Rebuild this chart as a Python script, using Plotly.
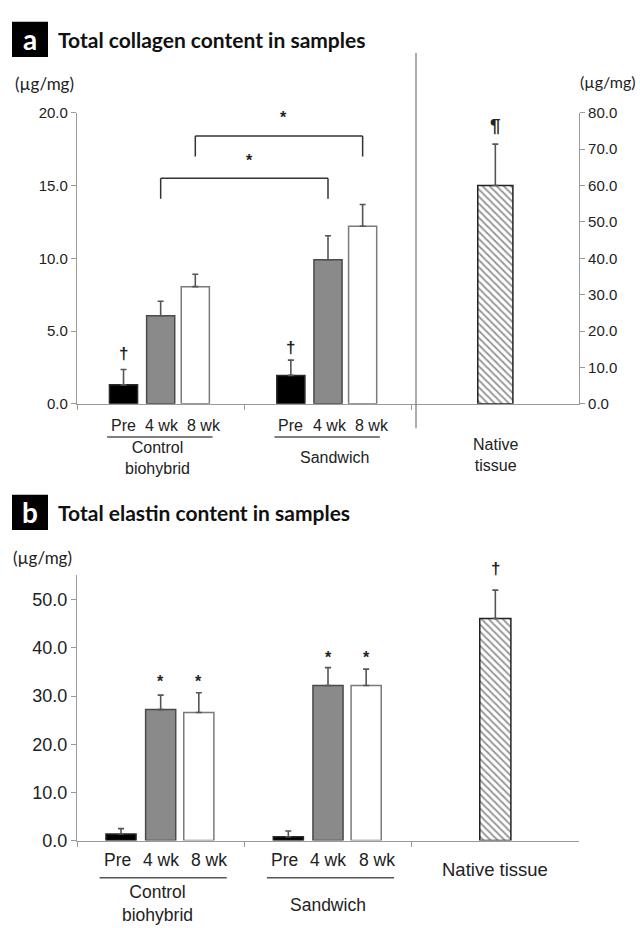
import plotly.graph_objects as go

# ---------------- data ----------------
categories = ["Control biohybrid", "Sandwich"]
native_category = ["Native tissue"]
all_categories = categories + native_category
timepoints = ["Pre", "4 wk", "8 wk"]

# Panel a: total collagen (µg/mg), upper error bars only
collagen_pre = [1.3, 1.95]
collagen_pre_err = [1.05, 1.05]
collagen_4wk = [6.05, 9.9]
collagen_4wk_err = [1.0, 1.65]
collagen_8wk = [8.05, 12.2]
collagen_8wk_err = [0.85, 1.5]
collagen_native = [60.0]
collagen_native_err = [11.4]

# Panel b: total elastin (µg/mg)
elastin_pre = [1.4, 0.8]
elastin_pre_err = [1.1, 1.2]
elastin_4wk = [27.2, 32.2]
elastin_4wk_err = [3.0, 3.7]
elastin_8wk = [26.6, 32.2]
elastin_8wk_err = [4.1, 3.4]
elastin_native = [46.1]
elastin_native_err = [5.9]

collagen_left_ticks = [0, 5, 10, 15, 20]
collagen_right_ticks = [0, 10, 20, 30, 40, 50, 60, 70, 80]
elastin_ticks = [0, 10, 20, 30, 40, 50]

# ---------------- helpers ----------------
W, H = 640, 928
def px(x):
    return x / W
def py(y):
    return 1 - y / H

LABEL_FONT = "Liberation Sans, Arial, sans-serif"
TITLE_FONT = "Lato, Open Sans, sans-serif"

fig = go.Figure()

fill_colors = ["#000000", "#8a8a8a", "#ffffff"]
line_colors = ["#2a2a2a", "#4a4a4a", "#7a7a7a"]


def add_panel(xa, ya, vals, errs, offsets, width):
    for i, (v, e) in enumerate(zip(vals, errs)):
        fig.add_trace(go.Bar(
            x=categories, y=v, name=timepoints[i],
            xaxis=xa, yaxis=ya,
            offset=offsets[i] - width / 2, width=width,
            marker=dict(color=fill_colors[i], line=dict(color=line_colors[i], width=1.5)),
            error_y=dict(type="data", array=e, arrayminus=[0] * len(e), symmetric=False,
                         color="#555555", thickness=1.6, width=3),
            showlegend=False, hoverinfo="x+y",
        ))

# Panel a bars
add_panel("x", "y", [collagen_pre, collagen_4wk, collagen_8wk],
          [collagen_pre_err, collagen_4wk_err, collagen_8wk_err],
          [-0.222, 0.0, 0.207], 0.168)
fig.add_trace(go.Bar(
    x=native_category, y=collagen_native, xaxis="x", yaxis="y2",
    offset=-0.105, width=0.21,
    marker=dict(color="#ffffff", line=dict(color="#222222", width=1.5),
                pattern=dict(shape="\\", fgcolor="#333333", bgcolor="#ffffff", size=5, solidity=0.4)),
    error_y=dict(type="data", array=collagen_native_err, arrayminus=[0], symmetric=False,
                 color="#555555", thickness=1.6, width=3),
    showlegend=False,
))

# Panel b bars
add_panel("x2", "y3", [elastin_pre, elastin_4wk, elastin_8wk],
          [elastin_pre_err, elastin_4wk_err, elastin_8wk_err],
          [-0.237, 0.0, 0.228], 0.18)
fig.add_trace(go.Bar(
    x=native_category, y=elastin_native, xaxis="x2", yaxis="y3",
    offset=-0.093, width=0.186,
    marker=dict(color="#ffffff", line=dict(color="#222222", width=1.5),
                pattern=dict(shape="\\", fgcolor="#333333", bgcolor="#ffffff", size=5, solidity=0.4)),
    error_y=dict(type="data", array=elastin_native_err, arrayminus=[0], symmetric=False,
                 color="#555555", thickness=1.6, width=3),
    showlegend=False,
))

xdom = [px(77), px(579)]
axis_line = "#9a9a9a"
common_x = dict(type="category", categoryorder="array", categoryarray=all_categories,
                range=[-0.5, 2.5], showticklabels=False, ticks="outside", tickson="boundaries",
                ticklen=5, tickcolor=axis_line, showline=True, linecolor=axis_line, linewidth=1.2,
                showgrid=False, zeroline=False, domain=xdom, fixedrange=True)

fig.update_layout(
    width=W, height=H, margin=dict(l=0, r=0, t=0, b=0),
    paper_bgcolor="white", plot_bgcolor="white", barmode="overlay",
    xaxis=dict(**common_x, anchor="y"),
    yaxis=dict(domain=[py(403), py(106)], range=[0, 20], tickvals=collagen_left_ticks,
               tickformat=".1f", ticks="outside", ticklen=5, tickcolor=axis_line,
               showline=True, linecolor=axis_line, linewidth=1.2, showgrid=False, zeroline=False,
               tickfont=dict(family=LABEL_FONT, size=15, color="#222222"), anchor="x"),
    yaxis2=dict(overlaying="y", side="right", anchor="x", range=[0, 80], tickvals=collagen_right_ticks,
                tickformat=".1f", ticks="outside", ticklen=5, tickcolor=axis_line,
                showline=True, linecolor=axis_line, linewidth=1.2, showgrid=False, zeroline=False,
                tickfont=dict(family=LABEL_FONT, size=15, color="#222222")),
    xaxis2=dict(**common_x, anchor="y3"),
    yaxis3=dict(domain=[py(849), py(578)], range=[0, 55.1], tickvals=elastin_ticks,
                tickformat=".1f", ticks="outside", ticklen=5, tickcolor=axis_line,
                showline=True, linecolor=axis_line, linewidth=1.2, showgrid=False, zeroline=False,
                tickfont=dict(family=LABEL_FONT, size=18, color="#222222"), anchor="x2"),
)

ann = []
shapes = []

# Titles
for letter, title, y0, y1 in [("a", "Total collagen content in samples", 13, 49),
                              ("b", "Total elastin content in samples", 496, 532)]:
    shapes.append(dict(type="rect", xref="paper", yref="paper", x0=px(12), x1=px(48),
                       y0=py(y1), y1=py(y0), fillcolor="black", line=dict(width=0)))
    ann.append(dict(xref="paper", yref="paper", x=px(30), y=py((y0 + y1) / 2), text="<b>%s</b>" % letter,
                    showarrow=False, xanchor="center", yanchor="middle",
                    font=dict(family=TITLE_FONT, size=28, color="white")))
    ann.append(dict(xref="paper", yref="paper", x=px(56), y=py((y0 + y1) / 2), text="<b>%s</b>" % title,
                    showarrow=False, xanchor="left", yanchor="middle",
                    font=dict(family=TITLE_FONT, size=21, color="#111111")))

# Units
for x, y, anchor, size in [(13, 76, "left", 17), (578, 74, "left", 16), (11, 560, "left", 17)]:
    ann.append(dict(xref="paper", yref="paper", x=px(x), y=py(y), text="(µg/mg)", showarrow=False,
                    xanchor=anchor, yanchor="middle", font=dict(family=TITLE_FONT, size=size, color="#222222")))

# Separator in panel a
shapes.append(dict(type="line", xref="paper", yref="paper", x0=px(416), x1=px(416), y0=py(428), y1=py(45),
                   line=dict(color="#777777", width=1.2)))

# Time-point labels and group labels
def group_labels(xa, y_lbl, offsets, y_line, line_span, y_grp, grp_texts, native_y, size, native_size,
                 native_text, line_gap):
    for ci in range(2):
        for ti, t in enumerate(timepoints):
            ann.append(dict(xref=xa, yref="paper", x=ci + offsets[ti], y=py(y_lbl), text=t, showarrow=False,
                            xanchor="center", yanchor="middle",
                            font=dict(family=LABEL_FONT, size=size, color="#222222")))
        shapes.append(dict(type="line", xref=xa, yref="paper", x0=ci + line_span[0], x1=ci + line_span[1],
                           y0=py(y_line), y1=py(y_line), line=dict(color="#555555", width=1.5)))
        ann.append(dict(xref=xa, yref="paper", x=ci + grp_texts[ci][1], y=py(y_grp[ci]),
                        text="<span style='line-height:%dpx'>%s</span>" % (line_gap, grp_texts[ci][0])
                        if False else grp_texts[ci][0],
                        showarrow=False, xanchor="center", yanchor="top",
                        font=dict(family=LABEL_FONT, size=size, color="#222222")))
    ann.append(dict(xref=xa, yref="paper", x=2, y=py(native_y), text=native_text, showarrow=False,
                    xanchor="center", yanchor="top", font=dict(family=LABEL_FONT, size=native_size, color="#222222")))

group_labels("x", 425, [-0.225, 0.01, 0.26], 437, (-0.32, 0.31), [437, 447],
             [("Control<br>biohybrid", -0.02), ("Sandwich", 0.04)], 434, 16, 16, "Native<br>tissue", 20)
group_labels("x2", 869, [-0.26, 0.0, 0.29], 887, (-0.365, 0.395), [889, 902],
             [("Control<br>biohybrid", -0.02), ("Sandwich", 0.0)], 866, 17.5, 18.5, "Native tissue", 20)

# Significance marks
def mark(xa, ya, x, y, text, size=16):
    ann.append(dict(xref=xa, yref=ya, x=x, y=y, text=text, showarrow=False, xanchor="center",
                    yanchor="middle", font=dict(family=LABEL_FONT, size=size, color="#222222")))

mark("x", "y", -0.222, 3.45, "<b>†</b>", 17)
mark("x", "y", 1 - 0.222, 3.9, "<b>†</b>", 17)
mark("x", "y2", 2, 76.5, "<b>¶</b>", 19)

for (x0, x1, ytop, yleg, ystar) in [(0.0, 1.0, 15.5, 14.1, 16.75), (0.207, 1.207, 18.4, 17.0, 19.7)]:
    for (a, b, c, d) in [(x0, yleg, x0, ytop), (x0, ytop, x1, ytop), (x1, ytop, x1, yleg)]:
        shapes.append(dict(type="line", xref="x", yref="y", x0=a, y0=b, x1=c, y1=d,
                           line=dict(color="#333333", width=1.5)))
    mark("x", "y", (x0 + x1) / 2 + 0.03, ystar, "<b>*</b>", 16)

for x, y in [(0.0, 33.1), (0.228, 33.1), (1.0, 38.1), (1.228, 38.1)]:
    mark("x2", "y3", x, y, "<b>*</b>", 16)
# dagger above the native elastin bar (sits above the axis top, so placed in paper space)
mark("x2", "paper", 2, py(571), "<b>†</b>", 17)

fig.update_layout(annotations=ann, shapes=shapes)
fig.write_html("out.html", config={"displayModeBar": False},
               post_script="document.body.style.margin='0';")
